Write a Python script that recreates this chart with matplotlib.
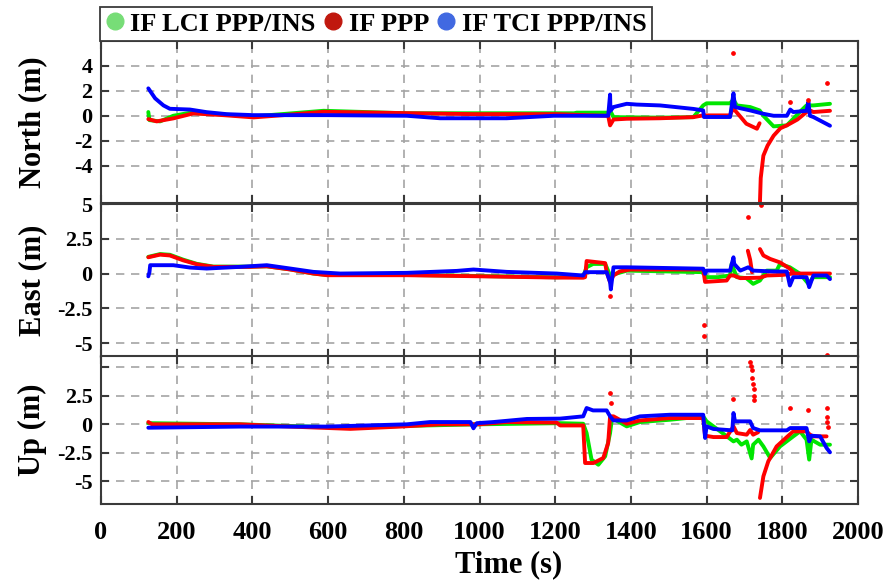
import numpy as np
import matplotlib
matplotlib.use('Agg')
import matplotlib.pyplot as plt
from matplotlib.lines import Line2D

nan = np.nan

# Time axis
x_ticks = list(range(0, 2001, 200))

# North error (m)
north_lci_t = [125, 128, 156, 191, 235, 323, 403, 588, 808, 1000, 1250, 1257, 1340, 1345, 1354, 1477, 1565, 1591,
               1600, 1662, 1671, 1680, 1715, 1740, 1750, 1777, 1812, 1829, 1846, 1864, 1882, 1926]
north_lci = [0.3, -0.35, -0.45, 0.0, 0.24, 0.1, -0.05, 0.4, 0.2, 0.2, 0.2, 0.25, 0.25, 0.43, -0.11, -0.15, -0.11, 0.83,
             1.0, 1.0, 1.3, 0.83, 0.7, 0.43, 0.0, -0.85, -0.77, -0.24, 0.3, 0.83, 0.83, 0.96]
north_ppp_t = [125, 147, 191, 244, 323, 403, 482, 588, 808, 984, 1204, 1300, 1340, 1345, 1354, 1389, 1477, 1565, 1591,
               1662, 1671, 1675, 1690, 1705, 1733, 1740, nan, 1741, 1743, 1750, 1761, 1777, 1795, 1812, 1840, 1864,
               1873, 1882, 1926]
north_ppp = [-0.27, -0.45, -0.21, 0.19, 0.05, -0.13, 0.05, 0.32, 0.21, 0.13, 0.13, 0.03, 0.0, -0.77, -0.3, -0.24, -0.2,
             -0.11, 0.03, 0.03, 0.7, 0.43, -0.1, -0.64, -1.04, -0.6, nan, -6.9, -5.0, -3.2, -2.4, -1.6, -1.0, -0.77,
             -0.3, 0.3, 0.43, 0.3, 0.4]
north_tci_t = [125, 143, 165, 182, 235, 279, 332, 403, 597, 808, 896, 1072, 1196, 1300, 1340, 1345, 1346, 1354, 1389,
               1415, 1477, 1565, 1591, 1593, 1662, 1671, 1675, 1715, 1750, 1777, 1812, 1821, 1829, 1864, 1869, 1873,
               1882, 1926]
north_tci = [2.2, 1.4, 0.83, 0.56, 0.5, 0.29, 0.13, 0.05, 0.05, 0.0, -0.2, -0.2, 0.0, 0.0, 0.0, 1.7, 0.4, 0.7, 0.96,
             0.9, 0.83, 0.55, 0.43, -0.1, -0.1, 1.8, 0.7, 0.43, 0.16, 0.0, 0.0, 0.5, 0.3, 0.4, 1.1, 0.0, -0.1, -0.8]
north_ppp_dots_t = [1671, 1821, 1869, 1917]
north_ppp_dots = [5.0, 1.1, 1.3, 2.6]

# East error (m)
east_lci_t = [125, 156, 182, 217, 253, 297, 394, 438, 500, 561, 597, 808, 984, 1204, 1274, 1283, 1300, 1332, 1336,
              1345, 1360, 1389, 1591, 1600, 1630, 1662, 1666, 1680, 1705, 1723, 1741, 1759, 1785, 1794, 1820, 1847,
              1869, 1882, 1926]
east_lci = [1.2, 1.4, 1.35, 1.0, 0.7, 0.5, 0.5, 0.52, 0.3, 0.0, -0.1, -0.1, -0.17, -0.27, -0.2, 0.45, 0.69, 0.69, 0.45,
            -0.14, -0.02, 0.21, 0.1, -0.26, -0.26, -0.14, 0.69, -0.26, -0.33, -0.74, -0.5, 0.21, 0.21, 0.69, 0.45,
            -0.02, -0.74, -0.26, -0.26]
east_ppp_t = [125, 156, 182, 217, 253, 297, 394, 438, 500, 561, 597, 808, 984, 1204, 1274, 1279, 1283, 1332, 1336,
              1345, 1354, 1371, 1398, 1591, 1596, 1653, 1662, 1671, 1689, 1741, 1759, 1800, 1829, 1926, nan,
              1709, 1715, 1720, nan, 1741, 1750, 1768, 1794, 1820, 1829]
east_ppp = [1.17, 1.36, 1.3, 0.95, 0.67, 0.48, 0.48, 0.52, 0.29, 0.0, -0.12, -0.12, -0.19, -0.29, -0.3, -0.26, 0.9,
            0.75, 0.1, -0.62, -0.14, 0.16, 0.29, 0.29, -0.6, -0.5, -0.14, -0.14, -0.33, -0.3, -0.14, -0.1, 0.0, 0.0,
            nan, 1.64, 1.0, 0.1, nan, 1.76, 1.3, 1.05, 0.8, 0.35, 0.1]
east_tci_t = [125, 128, 130, 191, 235, 279, 367, 438, 500, 561, 632, 808, 940, 984, 1072, 1204, 1274, 1279, 1336,
              1345, 1347, 1354, 1389, 1591, 1596, 1600, 1662, 1671, 1673, 1689, 1710, 1723, 1777, 1812, 1820, 1829,
              1864, 1871, 1882, 1917, 1926]
east_tci = [-0.2, 0.1, 0.6, 0.6, 0.43, 0.36, 0.48, 0.6, 0.36, 0.12, 0.0, 0.05, 0.19, 0.29, 0.12, 0.0, -0.14, 0.1,
            0.1, -0.62, -1.14, 0.45, 0.45, 0.35, -0.02, 0.21, 0.21, 1.17, 0.69, 0.21, 0.45, 0.21, 0.15, 0.15, -0.86,
            -0.26, -0.26, -0.98, -0.14, -0.14, -0.4]
east_ppp_dots_t = [1710, 1744, 1345, 1593, 1593, 1917]
east_ppp_dots = [4.1, 4.9, -1.6, -3.7, -4.5, -5.85]

# Up error (m)
up_lci_t = [125, 367, 500, 659, 791, 1000, 1213, 1274, 1283, 1296, 1314, 1332, 1345, 1350, 1389, 1424, 1503, 1591,
            1600, 1636, 1671, 1680, 1692, 1706, 1719, 1723, 1737, 1750, 1768, 1794, 1829, 1847, 1864, 1871, 1877,
            1900, 1926]
up_lci = [0.1, 0.0, -0.15, -0.3, -0.15, 0.0, 0.1, 0.05, -0.77, -3.1, -3.55, -2.81, -0.77, 0.55, -0.18, 0.2, 0.4, 0.7,
          0.26, -0.62, -1.5, -1.35, -1.79, -1.5, -3.0, -1.79, -1.35, -1.94, -2.96, -1.94, -1.06, -0.62, -1.35, -3.1,
          -1.35, -1.79, -1.79]
up_ppp_t = [125, 135, 367, 500, 659, 791, 896, 1000, 1072, 1204, 1213, 1274, 1279, 1301, 1327, 1340, 1345, 1354,
            1389, 1424, 1503, 1591, 1596, 1618, 1653, 1671, 1680, 1706, 1715, 1723, 1736, nan, 1741, 1750, 1763,
            1785, 1812, 1829, 1864, 1873, 1882, 1917]
up_ppp = [0.2, 0.0, 0.0, -0.2, -0.4, -0.2, 0.0, 0.0, 0.2, 0.15, -0.1, -0.1, -3.4, -3.4, -2.96, -1.64, 0.7, 0.7,
          0.05, 0.34, 0.55, 0.55, -1.0, -1.12, -1.12, -0.18, -0.77, -0.91, -0.5, -0.91, -0.7, nan, -6.47, -4.57,
          -3.25, -1.94, -1.12, -0.62, -0.62, -0.91, -1.06, -1.06]
up_tci_t = [125, 367, 597, 808, 870, 976, 984, 993, 1037, 1125, 1213, 1274, 1283, 1300, 1336, 1345, 1354, 1389, 1424,
            1503, 1591, 1596, 1600, 1618, 1668, 1671, 1675, 1715, 1723, 1741, 1812, 1821, 1864, 1871, 1877, 1900,
            1917, 1926]
up_tci = [-0.3, -0.2, -0.2, 0.0, 0.2, 0.2, -0.35, 0.1, 0.2, 0.47, 0.5, 0.7, 1.43, 1.22, 1.22, 0.7, 0.34, 0.34, 0.7,
          0.84, 0.84, -1.2, -0.18, -0.41, -0.53, 0.99, 0.26, 0.26, -0.33, -0.53, -0.53, -0.33, -0.33, -1.5, -1.0,
          -1.06, -2.08, -2.46]
up_ppp_dots_t = [1715, 1717, 1719, 1721, 1723, 1724, 1725, 1726, 1345, 1347, 1670, 1821, 1869, 1917, 1918, 1919, 1920]
up_ppp_dots = [5.5, 5.1, 4.8, 4.1, 3.5, 3.1, 2.5, 2.1, 2.75, 1.9, 2.2, 1.4, 1.25, 1.4, 0.65, 0.2, -0.2]

plt.rcParams['font.family'] = ['Liberation Serif', 'DejaVu Serif']
plt.rcParams['font.weight'] = 'bold'

c_lci, c_ppp, c_tci = '#00e600', '#ff0000', '#0000ff'
spine_c = '#3a3a3a'

fig = plt.figure(figsize=(8.89, 5.81), dpi=100)
left, width = 101 / 889, 757 / 889
ax_n = fig.add_axes([left, 378 / 581, width, 162 / 581])
ax_e = fig.add_axes([left, 224 / 581, width, 153 / 581])
ax_u = fig.add_axes([left, 77 / 581, width, 148 / 581])


def draw_panel(ax, lci, ppp, tci, dots, ylim, yticks, ylabels, ylabel):
    ax.plot(lci[0], lci[1], color=c_lci, lw=2.8, solid_capstyle='round')
    ax.plot(ppp[0], ppp[1], color=c_ppp, lw=2.8, solid_capstyle='round')
    ax.plot(tci[0], tci[1], color=c_tci, lw=2.8, solid_capstyle='round')
    ax.plot(dots[0], dots[1], linestyle='', marker='o', ms=2.4, color=c_ppp)
    ax.set_xlim(0, 2000)
    ax.set_ylim(*ylim)
    ax.set_xticks(x_ticks)
    ax.set_yticks(yticks)
    ax.set_yticklabels(ylabels)
    ax.set_axisbelow(True)
    ax.grid(True, color='#a4a4a4', linestyle=(0, (5, 4)), lw=1.2)
    ax.tick_params(direction='in', length=6, width=1.5, color=spine_c, top=True, right=True,
                   labelsize=16, pad=6)
    ax.tick_params(axis='x', labelsize=19, pad=12)
    for s in ax.spines.values():
        s.set_color(spine_c)
        s.set_linewidth(1.5)
    ax.set_ylabel(ylabel, fontsize=22, fontweight='bold')
    ax.yaxis.set_label_coords(-0.071, 0.5)


draw_panel(ax_n, (north_lci_t, north_lci), (north_ppp_t, north_ppp), (north_tci_t, north_tci),
           (north_ppp_dots_t, north_ppp_dots), (-7, 6), [-4, -2, 0, 2, 4], ['-4', '-2', '0', '2', '4'],
           'North (m)')
draw_panel(ax_e, (east_lci_t, east_lci), (east_ppp_t, east_ppp), (east_tci_t, east_tci),
           (east_ppp_dots_t, east_ppp_dots), (-6, 5), [-5, -2.5, 0, 2.5, 5], ['-5', '-2.5', '0', '2.5', '5'],
           'East (m)')
draw_panel(ax_u, (up_lci_t, up_lci), (up_ppp_t, up_ppp), (up_tci_t, up_tci),
           (up_ppp_dots_t, up_ppp_dots), (-7, 6), [-5, -2.5, 0, 2.5, 5], ['-5', '-2.5', '0', '2.5', ''],
           'Up (m)')

ax_n.tick_params(axis='x', labelbottom=False)
ax_e.tick_params(axis='x', labelbottom=False)
ax_u.set_xlabel('Time (s)', fontsize=22, fontweight='bold')
ax_u.xaxis.set_label_coords(0.538, -0.31)

handles = [Line2D([], [], linestyle='', marker='o', ms=12, color='#77dd77'),
           Line2D([], [], linestyle='', marker='o', ms=12, color='#c0180e'),
           Line2D([], [], linestyle='', marker='o', ms=12, color='#4169e1')]
leg = fig.legend(handles, ['IF LCI PPP/INS', 'IF PPP', 'IF TCI PPP/INS'], ncol=3,
                 loc='lower left', bbox_to_anchor=(100 / 889, 1 - 41 / 581), borderaxespad=0,
                 prop={'family': 'Liberation Serif', 'weight': 'bold', 'size': 19},
                 handlelength=0.7, handletextpad=0.25, columnspacing=0.3, borderpad=0.2,
                 fancybox=False, framealpha=1, edgecolor='#3a3a3a')
leg.get_frame().set_linewidth(1.3)

fig.savefig('out.png', dpi=100)
